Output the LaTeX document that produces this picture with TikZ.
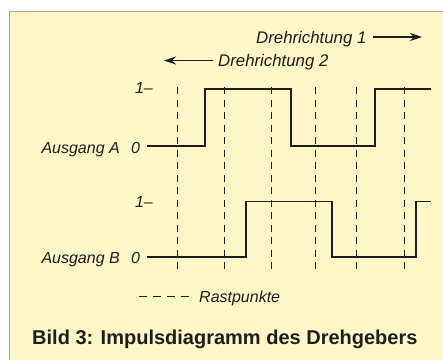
\documentclass[tikz,border=0pt]{standalone}
\usepackage{fontspec}
\setmainfont{Liberation Sans}
\usetikzlibrary{arrows.meta}
\definecolor{panel}{RGB}{255,247,200}
\definecolor{ink}{RGB}{30,30,30}
\definecolor{frame}{RGB}{170,168,150}
\tikzset{
  lbl/.style={inner sep=0pt, text=ink, font=\fontsize{16}{19}\selectfont\itshape},
  dirlbl/.style={lbl, font=\fontsize{16.8}{20}\selectfont\itshape},
  ttl/.style={inner sep=0pt, text=ink, font=\fontsize{20}{24}\selectfont\bfseries},
  sig/.style={draw=ink, line width=1.6pt, line join=miter},
  rast/.style={draw=ink, line width=0.9pt, dash pattern=on 7pt off 5.5pt},
  dirarrow/.style={draw=ink, line width=1.4pt, -{Stealth[length=12pt,width=8pt]}}
}
\begin{document}
\begin{tikzpicture}[x=1pt,y=-1pt]
\useasboundingbox (0,0) rectangle (443,360);
% panel
\fill[white] (0,0) rectangle (443,360);
\fill[panel] (9,11) rectangle (443,360);
\draw[frame, line width=0.8pt] (9,360) -- (9,11) -- (443,11);

% direction labels and arrows
\node[dirlbl, anchor=base west] (d1) at (256,43) {Drehrichtung 1};
\coordinate (d1a) at (373,37);
\coordinate (d1b) at (422,37);
\draw[dirarrow] (d1a) -- (d1b);
\node[dirlbl, anchor=base west] (d2) at (218,66.5) {Drehrichtung 2};
\coordinate (d2a) at (213,60.5);
\coordinate (d2b) at (164,60.5);
\draw[dirarrow] (d2a) -- (d2b);

% detent lines
\foreach \x/\n in {177/r1,224/r2,271/r3,315/r4,356/r5,404/r6}{
  \coordinate (\n t) at (\x,87);
  \coordinate (\n b) at (\x,273);
  \draw[rast] (\n t) -- (\n b);
}

% channel A
\node[lbl, anchor=base east] (a1) at (153,93.5) {1–};
\node[lbl, anchor=base east] (an) at (120,153) {Ausgang A};
\node[lbl, anchor=base west] (a0) at (131,153) {0};
\draw[sig] (147,146) -- (205,146) -- (205,89) -- (291,89) -- (291,146)
  -- (375,146) -- (375,89) -- (431,89);

% channel B
\node[lbl, anchor=base east] (b1) at (153,207.5) {1–};
\node[lbl, anchor=base east] (bn) at (120,263) {Ausgang B};
\node[lbl, anchor=base west] (b0) at (131,263) {0};
\draw[sig] (147,257) -- (246,257) -- (246,201.5) -- (332,201.5) -- (332,257)
  -- (416,257) -- (416,201.5) -- (431,201.5);

% legend
\coordinate (lg1) at (139,296.5);
\coordinate (lg2) at (194,296.5);
\draw[rast, dash pattern=on 8pt off 6pt] (lg1) -- (lg2);
\node[lbl, anchor=base west] (lg) at (199,302.5) {Rastpunkte};

% caption
\node[ttl, anchor=base west] (cap) at (32,344.5) {Bild 3: Impulsdiagramm des Drehgebers};
\end{tikzpicture}
\end{document}
